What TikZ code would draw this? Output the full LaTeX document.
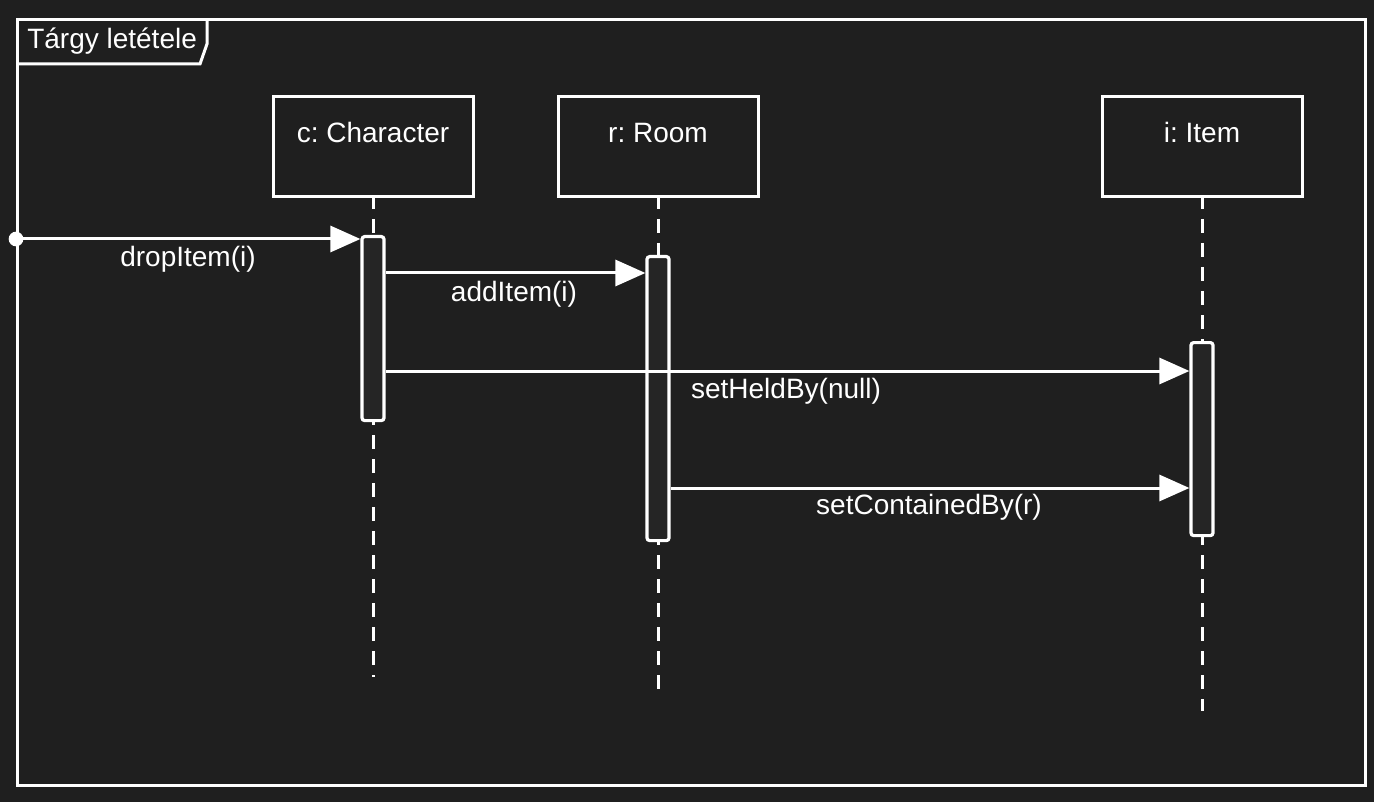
\documentclass[tikz,border=0pt]{standalone}
\usepackage{fontspec}
\setmainfont{Liberation Sans}
\usepackage{tikz}
\usetikzlibrary{arrows.meta,positioning}
\definecolor{bgdark}{RGB}{31,31,31}
\definecolor{bardark}{RGB}{37,37,37}
\frenchspacing

\begin{document}
\begin{tikzpicture}[x=0.75pt,y=-0.75pt,
    lifebox/.style={draw=white, line width=2.25pt, fill=bgdark, text=white,
        minimum width=150pt, inner ysep=0pt, text height=34.5pt, text depth=40.5pt,
        anchor=north, font=\fontsize{21}{25}\selectfont},
    lifeline/.style={white, line width=2.25pt, dash pattern=on 10.5pt off 7.5pt},
    actbar/.style={draw=white, line width=2.4pt, fill=bardark, rounded corners=2pt,
        minimum width=16.5pt, inner sep=0pt, anchor=north},
    msg/.style={white, line width=2.25pt, -{Triangle[length=22.5pt,width=19.5pt]}},
    lbl/.style={text=white, anchor=base, inner sep=0pt, font=\fontsize{21}{25}\selectfont}]
    % background and frame
    \fill[bgdark] (0,0) rectangle (1374,802);
    \useasboundingbox (0,0) rectangle (1374,802);
    \draw[white, line width=2.25pt] (17,20) rectangle (1365,785);
    \draw[white, line width=2.25pt] (207,20) -- (207,44) -- (200,64) -- (17,64);
    \node[lbl, anchor=base west] (title) at (27,49) {Tárgy letétele};

    % lifelines
    \draw[lifeline] (373,195) -- (373,677);
    \draw[lifeline] (658,195) -- (658,689);
    \draw[lifeline] (1202,195) -- (1202,711);
    \node[lifebox] (c) at (373,95) {c: Character};
    \node[lifebox] (r) at (658,95) {r: Room};
    \node[lifebox] (i) at (1202,95) {i: Item};

    % activations
    \node[actbar, minimum height=138pt] (cb) at (373,235) {};
    \node[actbar, minimum height=213pt] (rb) at (658,255) {};
    \node[actbar, minimum height=144.75pt] (ib) at (1202,341) {};

    % messages
    \node[circle, fill=white, inner sep=0pt, minimum size=11pt] (start) at (16,239) {};
    \draw[msg] (start.center) -- (cb.west |- start);
    \node[lbl] (ldrop) at (188,267) {dropItem(i)};
    \draw[msg] (cb.east |- 0,273) -- (rb.west |- 0,273);
    \node[lbl] (ladd) at (514,301) {addItem(i)};
    \draw[msg] (cb.east |- 0,371) -- (ib.west |- 0,371);
    \node[lbl] (lheld) at (786,398) {setHeldBy(null)};
    \draw[msg] (rb.east |- 0,488) -- (ib.west |- 0,488);
    \node[lbl] (lcont) at (929,514) {setContainedBy(r)};
\end{tikzpicture}
\end{document}
